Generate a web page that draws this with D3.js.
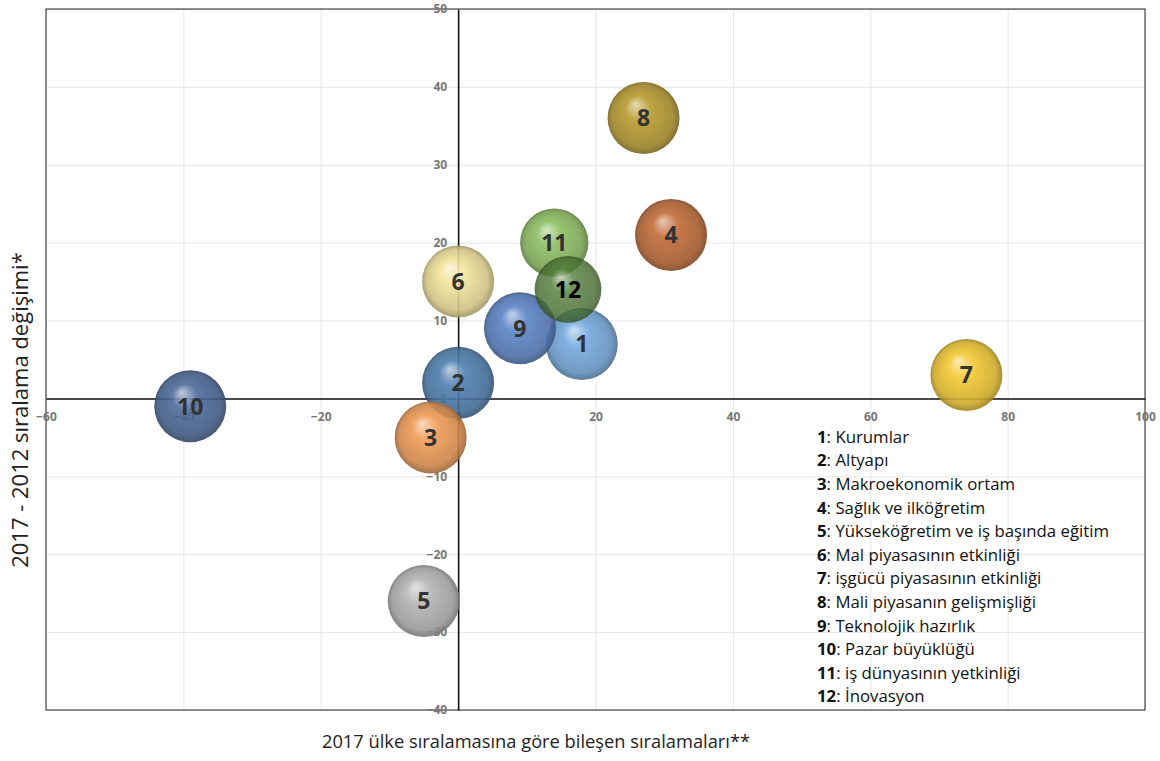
<!DOCTYPE html>
<meta charset="utf-8">
<title>Bileşen sıralamaları</title>
<script src="https://d3js.org/d3.v7.min.js"></script>
<style>
  body { margin: 0; background: #fff; }
  text { font-family: "Open Sans", "Noto Sans", sans-serif; }
</style>
<body>
<div id="my_dataviz"></div>
<script>
// bubble ids, positions
var ids   = ["1", "2", "3", "4", "5", "6", "7", "8", "9", "10", "11", "12"];
var xVals = [18, 0, -4, 31, -5, 0, 74, 27, 9, -39, 14, 16];
var yVals = [7, 2, -5, 21, -26, 15, 3, 36, 9, -1, 20, 14];
var sizes = [10, 10, 10, 10, 10, 10, 10, 10, 10, 10, 9, 8.6];
var colors = ["#74a9de", "#4f7fb0", "#f09a55", "#c06a35", "#b4b4b4", "#f1e39a",
              "#f2c830", "#b89a2e", "#5b83c6", "#4d6a9a", "#8dbf62", "#4e7a34"];
var names = ["Kurumlar", "Altyapı", "Makroekonomik ortam", "Sağlık ve ilköğretim",
             "Yükseköğretim ve iş başında eğitim", "Mal piyasasının etkinliği",
             "işgücü piyasasının etkinliği", "Mali piyasanın gelişmişliği",
             "Teknolojik hazırlık", "Pazar büyüklüğü", "iş dünyasının yetkinliği", "İnovasyon"];
var xTicks = [-60, -40, -20, 0, 20, 40, 60, 80, 100];
var yTicks = [-40, -30, -20, -10, 0, 10, 20, 30, 40, 50];

var margin = {top: 9, right: 15, bottom: 51, left: 46},
    width = 1160 - margin.left - margin.right,
    height = 761 - margin.top - margin.bottom;

var svg = d3.select("#my_dataviz")
  .append("svg")
    .attr("width", 1160)
    .attr("height", 761);

var g = svg.append("g")
    .attr("transform", "translate(" + margin.left + "," + margin.top + ")");

var x = d3.scaleLinear().domain([-60, 100]).range([0, width]);
var y = d3.scaleLinear().domain([-40, 50]).range([height, 0]);
var r = d3.scaleSqrt().domain([0, 10]).range([0, 36]);

// gridlines
g.append("g")
  .call(d3.axisBottom(x).tickValues(xTicks).tickSize(height).tickFormat(""))
  .call(function(s) { s.select(".domain").remove(); })
  .selectAll("line").attr("stroke", "#e6e6e6");
g.append("g")
  .call(d3.axisLeft(y).tickValues(yTicks).tickSize(-width).tickFormat(""))
  .call(function(s) { s.select(".domain").remove(); })
  .selectAll("line").attr("stroke", "#e6e6e6");

// frame
g.append("rect")
  .attr("width", width).attr("height", height)
  .attr("fill", "none").attr("stroke", "#222").attr("stroke-width", 1);

// axes through zero
var xAxis = g.append("g")
  .attr("transform", "translate(0," + y(0) + ")")
  .call(d3.axisBottom(x).tickValues(xTicks).tickSize(0).tickPadding(14));
var yAxis = g.append("g")
  .attr("transform", "translate(" + x(0) + ",0)")
  .call(d3.axisLeft(y).tickValues(yTicks).tickSize(0).tickPadding(11));
[xAxis, yAxis].forEach(function(a) {
  a.select(".domain").attr("stroke", "#111").attr("stroke-width", 1.6);
  a.selectAll("text")
    .attr("fill", "#777")
    .style("font-size", "12px")
    .style("font-weight", "bold")
    .style("font-family", "'Open Sans', sans-serif");
});

// gradients
var defs = svg.append("defs");
colors.forEach(function(c, i) {
  var grad = defs.append("radialGradient")
    .attr("id", "ball" + i)
    .attr("cx", "50%").attr("cy", "50%").attr("r", "50%")
    .attr("fx", "38%").attr("fy", "30%");
  grad.append("stop").attr("offset", "0%").attr("stop-color", d3.interpolateRgb(c, "#fff")(0.6));
  grad.append("stop").attr("offset", "35%").attr("stop-color", c);
  grad.append("stop").attr("offset", "85%").attr("stop-color", d3.interpolateRgb(c, "#000")(0.15));
  grad.append("stop").attr("offset", "100%").attr("stop-color", d3.interpolateRgb(c, "#000")(0.35));
});

var data = ids.map(function(id, i) {
  return {id: id, x: xVals[i], y: yVals[i], s: sizes[i], i: i};
});

var balls = g.selectAll(".ball")
  .data(data)
  .enter().append("g")
    .attr("class", "ball")
    .attr("transform", function(d) { return "translate(" + x(d.x) + "," + y(d.y) + ")"; });

balls.append("circle")
  .attr("r", function(d) { return r(d.s); })
  .attr("fill", function(d) { return "url(#ball" + d.i + ")"; })
  .attr("opacity", function(d) { return d.id === "12" ? 0.8 : 0.9; });

balls.append("text")
  .attr("text-anchor", "middle")
  .attr("dy", "0.36em")
  .attr("fill", function(d) { return d.id === "12" ? "#000" : "#333"; })
  .style("font-size", "23px")
  .style("font-weight", "bold")
  .text(function(d) { return d.id; });

// legend
var legend = svg.append("g").attr("transform", "translate(817,437)");
names.forEach(function(n, i) {
  var t = legend.append("text")
    .attr("y", i * 23.6)
    .attr("dy", "0.35em")
    .attr("fill", "#111")
    .style("font-size", "16.8px");
  t.append("tspan").style("font-weight", "bold").text(ids[i]);
  t.append("tspan").text(": " + n);
});

// axis titles
svg.append("text")
  .attr("x", 536).attr("y", 748)
  .attr("text-anchor", "middle")
  .attr("fill", "#222")
  .style("font-size", "18.3px")
  .text("2017 ülke sıralamasına göre bileşen sıralamaları**");

svg.append("text")
  .attr("transform", "translate(20,410) rotate(-90)")
  .attr("text-anchor", "middle")
  .attr("dy", "0.35em")
  .attr("fill", "#222")
  .style("font-size", "22px")
  .text("2017 - 2012 sıralama değişimi*");
</script>
</body>
